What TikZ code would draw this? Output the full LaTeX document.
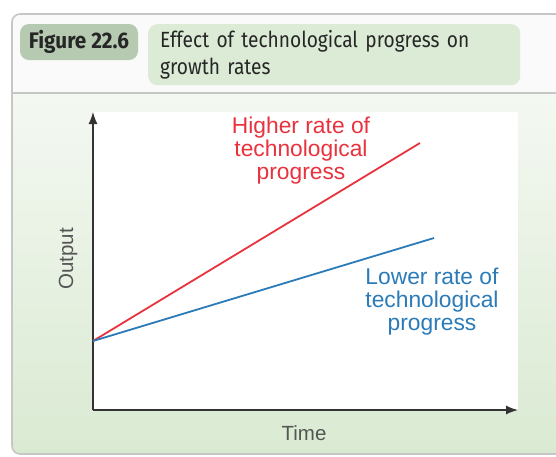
\documentclass[tikz,border=0pt]{standalone}
\usepackage{fontspec}
\setmainfont{Liberation Sans}
\newfontfamily\headfont[FakeStretch=0.87]{Fira Sans}
\newfontfamily\figfont[FakeStretch=0.92]{Fira Sans}
\usepackage{xcolor}
\usetikzlibrary{arrows.meta}
\definecolor{hirate}{HTML}{E8333E}
\definecolor{lorate}{HTML}{2B7BB8}
\definecolor{pillgreen}{HTML}{DCEBD6}
\definecolor{pilldark}{HTML}{B6CAB2}
\definecolor{framegray}{HTML}{C6C6C6}
\definecolor{headbg}{HTML}{FAFAFA}
\definecolor{bgtop}{HTML}{F4F8F2}
\definecolor{bgbot}{HTML}{DAEAD2}
\definecolor{axisgray}{HTML}{333333}
\definecolor{labgray}{HTML}{555555}

\begin{document}
\begin{tikzpicture}[x=1pt,y=-1pt,
  axis/.style={-{Latex[length=12pt,width=9pt]}, axisgray, line width=1.3pt},
  rateline/.style={line width=1.8pt},
  ratelabel/.style={align=center, font=\fontsize{22.8}{23}\selectfont},
  axislabel/.style={labgray, font=\fontsize{20.5}{22}\selectfont}]
\useasboundingbox (0,0) rectangle (556,456);
\clip (0,0) rectangle (556,456);
% рамка
\fill[white] (0,0) rectangle (556,456);
\begin{scope}
\clip[rounded corners=8pt] (12,14) rectangle (590,454);
\fill[headbg] (12,14) rectangle (590,93);
\shade[top color=bgtop, bottom color=bgbot] (12,93) rectangle (590,454);
\end{scope}
\draw[framegray, line width=1.6pt, rounded corners=8pt] (12,14) rectangle (590,454);
\draw[framegray, line width=1.6pt] (12,93) -- (590,93);
% заголовок
\node[fill=pilldark, rounded corners=9pt, minimum width=118pt, minimum height=36pt,
  inner sep=0pt, font=\figfont\bfseries\fontsize{22.5}{24}\selectfont, text=black!85]
  (fig) at (79,42) {Figure 22.6};
\node[fill=pillgreen, rounded corners=9pt, anchor=north west, text width=348pt,
  inner xsep=12pt, inner ysep=5pt, minimum height=61pt, align=left,
  font=\headfont\fontsize{22}{27}\selectfont, text=black!85]
  (title) at (148,24) {Effect of technological progress on\\growth rates};
% поле графика
\fill[white] (93,112) rectangle (518,410);
% оси
\coordinate (O) at (93,410);
\coordinate (ytop) at (93,112);
\coordinate (xend) at (518,410);
\draw[axis] (O) -- (ytop);
\draw[axis] (O) -- (xend);
% прямые
\coordinate (start) at (93,341);
\coordinate (hiend) at (420,143);
\coordinate (loend) at (434,238);
\draw[rateline, hirate] (start) -- (hiend);
\draw[rateline, lorate] (start) -- (loend);
% подписи
\node[ratelabel, text=hirate] (hi) at (301,151) {Higher rate of\\technological\\progress};
\node[ratelabel, text=lorate] (lo) at (432,302) {Lower rate of\\technological\\progress};
\node[axislabel, rotate=90] (out) at (68,259) {Output};
\node[axislabel] (time) at (304,433) {Time};
\end{tikzpicture}
\end{document}
